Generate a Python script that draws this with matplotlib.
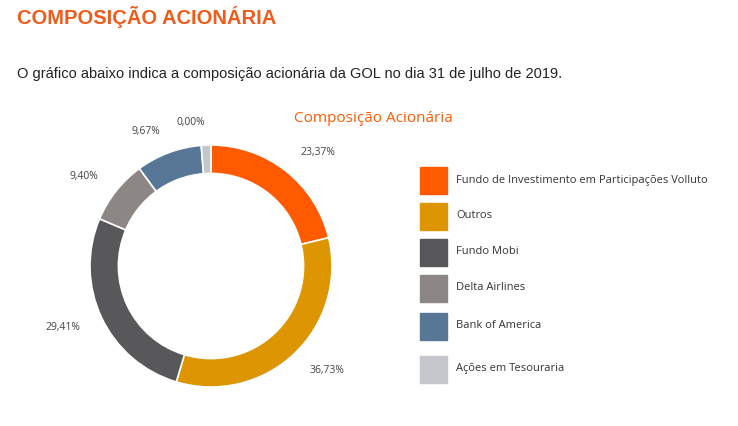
import matplotlib
matplotlib.use("Agg")
import matplotlib.pyplot as plt
from matplotlib.patches import Rectangle

categories = ["Fundo de Investimento em Participações Volluto", "Outros", "Fundo Mobi",
              "Delta Airlines", "Bank of America", "Ações em Tesouraria"]
values = [23.37, 36.73, 29.41, 9.40, 9.67, 1.42]
value_labels = ["23,37%", "36,73%", "29,41%", "9,40%", "9,67%", "0,00%"]
colors = ["#FF5A00", "#DD9502", "#58585A", "#8C8784", "#587797", "#C5C6CB"]

W, H = 738, 426
fig = plt.figure(figsize=(W/100, H/100), dpi=100)
fig.patch.set_facecolor("white")

fig.text(17/W, 1-17/H, "COMPOSIÇÃO ACIONÁRIA", color="#F05A1A", fontsize=14.5,
         fontweight="bold", va="center", ha="left", family="Liberation Sans")
fig.text(17/W, 1-74/H, "O gráfico abaixo indica a composição acionária da GOL no dia 31 de julho de 2019.",
         color="#222222", fontsize=10.5, va="center", ha="left", family="Liberation Sans")
fig.text(373/W, 1-118/H, "Composição Acionária", color="#FF5A00", fontsize=11,
         va="center", ha="center", family="Open Sans")

cx, cy, r = 211, 266, 121
ax = fig.add_axes([(cx-r)/W, (H-cy-r)/H, 2*r/W, 2*r/H])
wedges, texts = ax.pie(values, colors=colors, startangle=90, counterclock=False,
                       labels=value_labels, labeldistance=1.19,
                       wedgeprops=dict(width=0.235, edgecolor="white", linewidth=1.2),
                       textprops=dict(fontsize=7.5, color="#444444", family="Open Sans"))
ax.set_xlim(-1, 1)
ax.set_ylim(-1, 1)
ax.set_aspect("equal")
for t in texts:
    t.set_clip_on(False)

ys = [180, 216, 252, 288, 326, 369]
for cat, col, y in zip(categories, colors, ys):
    fig.patches.append(Rectangle((420/W, (H-y-14)/H), 27/W, 27/H, color=col,
                                 transform=fig.transFigure, figure=fig))
    fig.text(456/W, 1-y/H, cat, fontsize=8, color="#333333", va="center", ha="left",
             family="Open Sans")

fig.savefig("out.png", dpi=100)
